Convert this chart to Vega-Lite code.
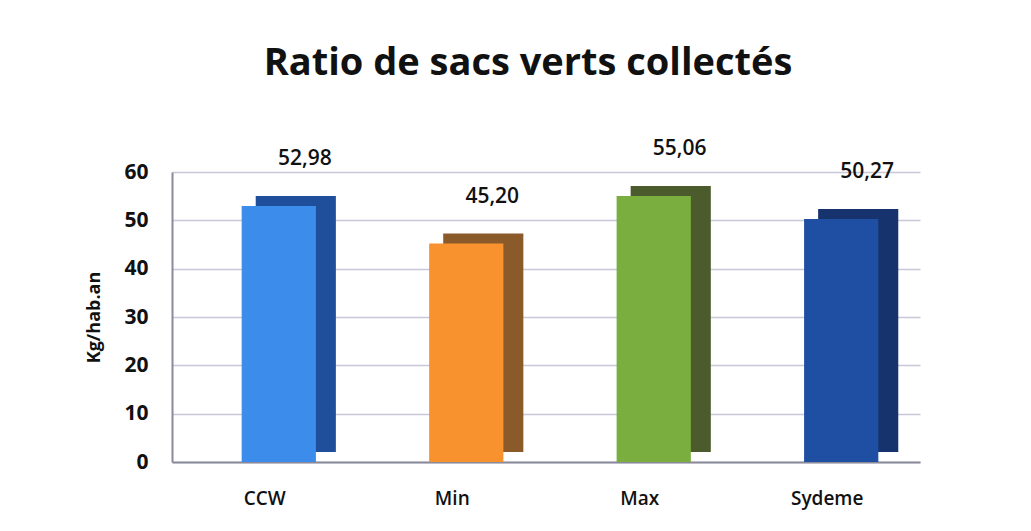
{
  "$schema": "https://vega.github.io/schema/vega-lite/v6.json",
  "autosize": "none",
  "width": 748,
  "height": 290,
  "padding": {"left": 172, "top": 172, "right": 111, "bottom": 69},
  "background": "white",
  "config": {
    "font": "Lato",
    "view": {"stroke": null},
    "locale": {"number": {"decimal": ",", "thousands": " ", "grouping": [3], "currency": ["", " €"]}}
  },
  "title": {
    "text": "Ratio de sacs verts collectés",
    "fontSize": 38,
    "fontWeight": "bold",
    "font": "Open Sans",
    "color": "#111111",
    "anchor": "middle",
    "offset": 55,
    "dx": -18
  },
  "data": {
    "values": [
      {"cat": "CCW", "value": 52.98},
      {"cat": "Min", "value": 45.20},
      {"cat": "Max", "value": 55.06},
      {"cat": "Sydeme", "value": 50.27}
    ]
  },
  "encoding": {
    "x": {
      "field": "cat", "type": "nominal", "sort": null,
      "scale": {"paddingInner": 0.55, "paddingOuter": 0.27},
      "axis": {"title": null, "labelAngle": 0, "labelFontSize": 19, "labelFont": "Open Sans", "labelFontWeight": 600, "labelColor": "#111", "labelPadding": 27, "ticks": false, "domainColor": "#8a8a9a", "domainWidth": 2}
    },
    "y": {
      "field": "value", "type": "quantitative",
      "scale": {"domain": [0, 60]},
      "axis": {"title": "Kg/hab.an", "titleFontSize": 18, "titleFont": "Open Sans", "titleFontWeight": "bold", "titleColor": "#111", "titlePadding": 20, "values": [0, 10, 20, 30, 40, 50, 60], "labelFontSize": 21, "labelFont": "Open Sans", "labelFontWeight": "bold", "labelColor": "#111", "labelPadding": 24, "ticks": false, "domainColor": "#8a8a9a", "domainWidth": 2, "gridColor": "#c8c8d8", "gridWidth": 1.5}
    }
  },
  "layer": [
    {
      "mark": {"type": "bar", "xOffset": 31, "yOffset": -10, "width": {"band": 0.95}},
      "encoding": {
        "color": {"field": "cat", "type": "nominal", "legend": null, "scale": {"domain": ["CCW", "Min", "Max", "Sydeme"], "range": ["#1f4e9b", "#8b5a2b", "#4b5b2c", "#17336e"]}}
      }
    },
    {
      "mark": {"type": "bar", "width": {"band": 0.88}, "xOffset": 14},
      "encoding": {
        "fill": {"field": "cat", "type": "nominal", "legend": null, "scale": {"domain": ["CCW", "Min", "Max", "Sydeme"], "range": ["#3c8deb", "#f8922e", "#7aae3e", "#1f4fa3"]}}
      }
    },
    {
      "mark": {"type": "text", "dy": -37, "dx": 40, "fontSize": 21, "font": "Open Sans", "fontWeight": 600, "color": "#111", "baseline": "bottom"},
      "encoding": {"text": {"field": "value", "type": "quantitative", "format": ".2f"}}
    }
  ],
  "resolve": {"scale": {"color": "independent", "fill": "independent"}}
}
